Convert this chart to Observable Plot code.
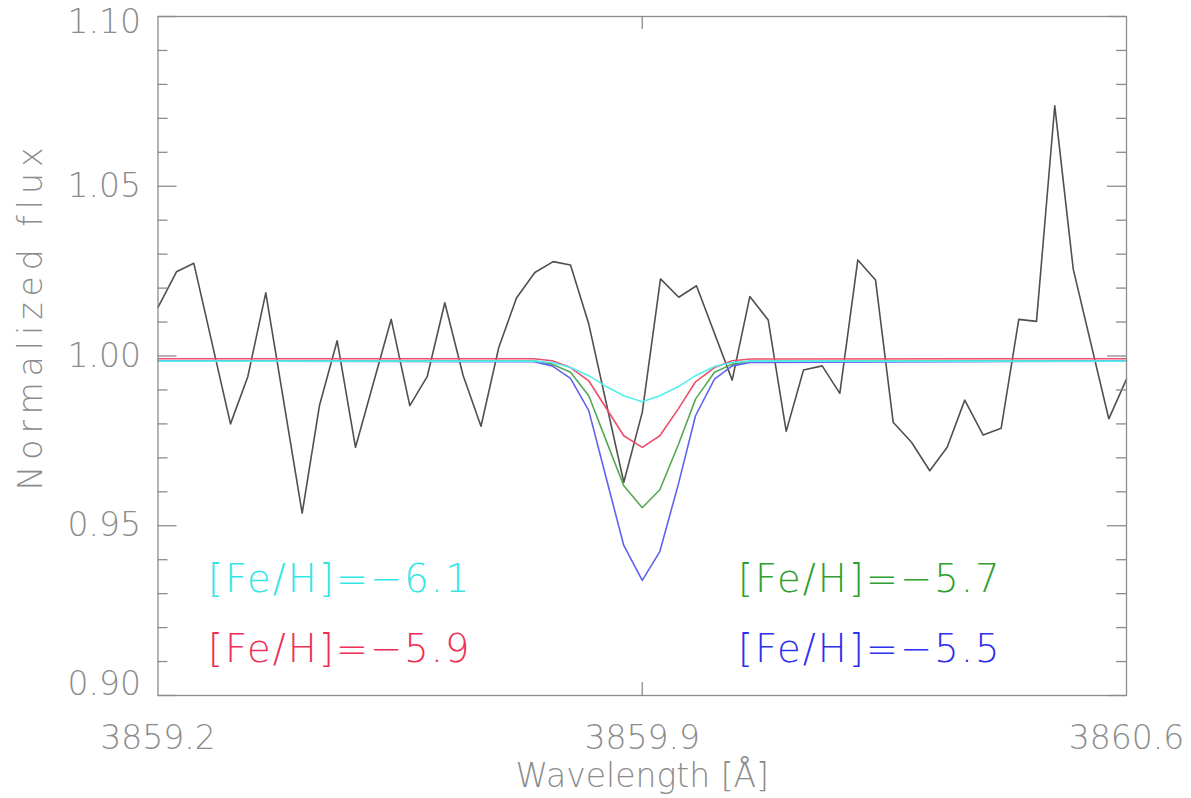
<!DOCTYPE html>
<html>
<head>
<meta charset="utf-8">
<script src="https://cdn.jsdelivr.net/npm/d3@7"></script>
<script src="https://cdn.jsdelivr.net/npm/@observablehq/plot@0.6"></script>
<style>
  html, body { margin: 0; padding: 0; background: #fff; }
  #chart svg { display: block; }
  #chart svg text { font-weight: 200; }
</style>
</head>
<body>
<div id="chart"></div>
<script>
// Observed spectrum (wavelength in Å, normalized flux)
const obsWave = [3859.2000, 3859.2267, 3859.2518, 3859.3048, 3859.3298, 3859.3558, 3859.4084, 3859.4334,
  3859.4590, 3859.4855, 3859.5371, 3859.5640, 3859.5891, 3859.6146, 3859.6412, 3859.6669, 3859.6926,
  3859.7182, 3859.7447, 3859.7713, 3859.7963, 3859.8227, 3859.8733, 3859.9000, 3859.9264, 3859.9528,
  3859.9784, 3860.0300, 3860.0555, 3860.0821, 3860.1081, 3860.1331, 3860.1601, 3860.1856, 3860.2116,
  3860.2372, 3860.2627, 3860.2892, 3860.3156, 3860.3408, 3860.3662, 3860.3928, 3860.4188, 3860.4443,
  3860.4699, 3860.4963, 3860.5230, 3860.5744, 3860.6000];
const obsFlux = [1.0143, 1.0248, 1.0273, 0.9800, 0.9939, 1.0186, 0.9537, 0.9854,
  1.0045, 0.9731, 1.0108, 0.9854, 0.9939, 1.0157, 0.9942, 0.9793, 1.0025,
  1.0171, 1.0246, 1.0278, 1.0268, 1.0094, 0.9628, 0.9834, 1.0227, 1.0173,
  1.0207, 0.9929, 1.0175, 1.0106, 0.9778, 0.9959, 0.9971, 0.9890, 1.0283,
  1.0224, 0.9805, 0.9746, 0.9662, 0.9731, 0.9870, 0.9767, 0.9787, 1.0108,
  1.0102, 1.0737, 1.0256, 0.9815, 0.9932];

// Synthetic spectra grid
const modelWave = [3859.2000, 3859.7434, 3859.7698, 3859.7963, 3859.8227, 3859.8480, 3859.8733, 3859.9000,
  3859.9254, 3859.9524, 3859.9770, 3860.0044, 3860.0300, 3860.0565, 3860.6000];
const fluxM61 = [0.9985, 0.9985, 0.9981, 0.9966, 0.9942, 0.9910, 0.9883, 0.9865,
  0.9883, 0.9910, 0.9942, 0.9969, 0.9981, 0.9985, 0.9985];
const fluxM59 = [0.9992, 0.9992, 0.9986, 0.9966, 0.9927, 0.9846, 0.9765, 0.9731,
  0.9765, 0.9845, 0.9924, 0.9966, 0.9986, 0.9991, 0.9992];
const fluxM57 = [0.9986, 0.9986, 0.9976, 0.9952, 0.9883, 0.9750, 0.9618, 0.9553,
  0.9606, 0.9740, 0.9873, 0.9952, 0.9976, 0.9985, 0.9986];
const fluxM55 = [0.9985, 0.9983, 0.9971, 0.9934, 0.9839, 0.9640, 0.9442, 0.9339,
  0.9424, 0.9624, 0.9824, 0.9932, 0.9971, 0.9981, 0.9985];

const seriesLabels = ["[Fe/H]=\u22126.1", "[Fe/H]=\u22125.9", "[Fe/H]=\u22125.7", "[Fe/H]=\u22125.5"];
const seriesColors = ["#55eeee", "#ee4f6a", "#55a855", "#6262ee"];
const labelColors = ["#33e6e6", "#ee2f55", "#2f9f2f", "#2f2fee"];

const xTicks = [3859.2, 3859.9, 3860.6];
const yMajor = [0.90, 0.95, 1.00, 1.05, 1.10];
const yMinor = [0.91, 0.92, 0.93, 0.94, 0.96, 0.97, 0.98, 0.99, 1.01, 1.02, 1.03, 1.04, 1.06, 1.07, 1.08, 1.09];

const W = 1191, H = 798;
const mL = 157.5, mR = 65, mT = 16, mB = 103;
const pw = W - mL - mR, ph = H - mT - mB;
const gray = "#8c8c8c";
const font = "DejaVu Sans";

const obs = obsWave.map((w, i) => ({w, f: obsFlux[i]}));
const models = [fluxM61, fluxM59, fluxM57, fluxM55].map(arr => modelWave.map((w, i) => ({w, f: arr[i]})));

const legendStyle = {fontSize: 38.5, textAnchor: "start", lineAnchor: "middle", frameAnchor: "bottom-left"};

const plot = Plot.plot({
  width: W, height: H,
  marginLeft: mL, marginRight: mR, marginTop: mT, marginBottom: mB,
  style: {fontFamily: font, background: "#fff", color: gray},
  x: {domain: [3859.2, 3860.6], axis: null},
  y: {domain: [0.90, 1.10], axis: null},
  marks: [
    // observed spectrum
    Plot.line(obs, {x: "w", y: "f", stroke: "#505050", strokeWidth: 1.6}),
    // models (draw order: red, green, blue, cyan on top)
    Plot.line(models[1], {x: "w", y: "f", stroke: seriesColors[1], strokeWidth: 1.6}),
    Plot.line(models[2], {x: "w", y: "f", stroke: seriesColors[2], strokeWidth: 1.6}),
    Plot.line(models[3], {x: "w", y: "f", stroke: seriesColors[3], strokeWidth: 1.6}),
    Plot.line(models[0], {x: "w", y: "f", stroke: seriesColors[0], strokeWidth: 1.6}),
    // frame and inward ticks
    Plot.frame({stroke: gray, strokeWidth: 1.3}),
    Plot.tickY(yMajor, {y: d => d, insetRight: pw - 19, stroke: gray, strokeWidth: 1.3}),
    Plot.tickY(yMajor, {y: d => d, insetLeft: pw - 19, stroke: gray, strokeWidth: 1.3}),
    Plot.tickY(yMinor, {y: d => d, insetRight: pw - 10, stroke: gray, strokeWidth: 1.3}),
    Plot.tickY(yMinor, {y: d => d, insetLeft: pw - 10, stroke: gray, strokeWidth: 1.3}),
    Plot.tickX([xTicks[1]], {x: d => d, insetTop: ph - 13, stroke: gray, strokeWidth: 1.3}),
    Plot.tickX([xTicks[1]], {x: d => d, insetBottom: ph - 13, stroke: gray, strokeWidth: 1.3}),
    // tick labels
    Plot.axisY(yMajor.slice(1, 4), {anchor: "left", tickSize: 0, tickPadding: 17, tickFormat: d3.format(".2f"), fontSize: 33, fill: gray, label: null}),
    Plot.axisY([yMajor[4]], {anchor: "left", tickSize: 0, tickPadding: 17, dy: 6, tickFormat: d3.format(".2f"), fontSize: 33, fill: gray, label: null}),
    Plot.axisY([yMajor[0]], {anchor: "left", tickSize: 0, tickPadding: 17, dy: -11, tickFormat: d3.format(".2f"), fontSize: 33, fill: gray, label: null}),
    Plot.axisX(xTicks, {anchor: "bottom", tickSize: 0, tickPadding: 30, tickFormat: d3.format(".1f"), fontSize: 33, fill: gray, label: null}),
    // axis titles
    Plot.text(["Wavelength [\u00c5]"], {frameAnchor: "bottom", dy: 81, text: d => d, fontSize: 33, fill: gray, lineAnchor: "middle", textAnchor: "middle"}),
    Plot.text(["Normalized flux"], {frameAnchor: "left", dx: -127, dy: -40, rotate: -90, text: d => d, fontSize: 33, fill: gray, lineAnchor: "middle", textAnchor: "middle"}),
    // legend labels
    Plot.text([seriesLabels[0]], {...legendStyle, dx: 50, dy: -116, text: d => d, fill: labelColors[0]}),
    Plot.text([seriesLabels[1]], {...legendStyle, dx: 50, dy: -46, text: d => d, fill: labelColors[1]}),
    Plot.text([seriesLabels[2]], {...legendStyle, dx: 580, dy: -116, text: d => d, fill: labelColors[2]}),
    Plot.text([seriesLabels[3]], {...legendStyle, dx: 580, dy: -46, text: d => d, fill: labelColors[3]})
  ]
});
// letter spacing to mimic the wide stroke font of the original
d3.select(plot).selectAll("text").each(function() {
  const t = this.textContent;
  if (t.startsWith("[Fe/H]")) d3.select(this).attr("letter-spacing", "2px");
  else if (t === "Normalized flux") d3.select(this).attr("letter-spacing", "6px");
});
document.getElementById("chart").appendChild(plot);
</script>
</body>
</html>
